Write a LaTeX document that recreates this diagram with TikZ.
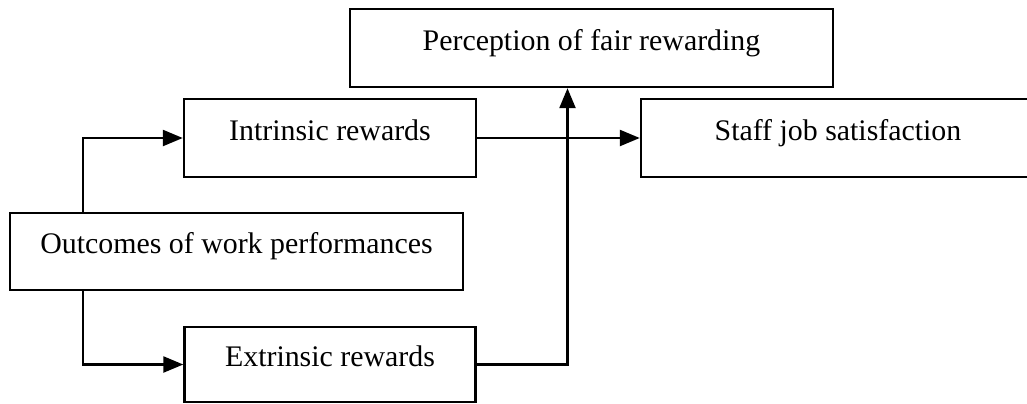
\documentclass[tikz,border=0pt]{standalone}
\usepackage{fontspec}
\setmainfont{Liberation Serif}
\usetikzlibrary{arrows.meta}

\begin{document}
\begin{tikzpicture}[node distance=45mm, >={Triangle[length=4mm,width=3.2mm]}, line width=1.4pt,
  block/.style={rectangle, draw, inner sep=0pt, text height=4.2mm, text depth=3.4mm, font=\fontsize{17}{20}\selectfont}]

    \useasboundingbox (0,0) rectangle (20.54,-8.08);

    \node[block, minimum width=58.4mm, minimum height=15.6mm] (intr) at (6.6,-2.76) {Intrinsic rewards};
    \node[block, minimum width=58.2mm, minimum height=15mm, below of=intr, node distance=45.3mm] (extr) {Extrinsic rewards};
    \node[block, minimum width=78.8mm, minimum height=15.6mm, right of=intr, node distance=101.6mm] (staff) {Staff job satisfaction};
    \node[block, minimum width=90.6mm, minimum height=15.4mm] (outc) at (4.73,-5.03) {Outcomes of work performances};
    \node[block, minimum width=96.6mm, minimum height=15.6mm] (perc) at (11.83,-0.96) {Perception of fair rewarding};
    \node[coordinate, left of=outc, node distance=30.7mm] (fork) {};
    \node[coordinate, right of=extr, node distance=47.5mm] (rise) {};

    \draw[->] (fork |- outc.north) |- (intr);
    \draw[->] (fork |- outc.south) |- (extr);
    \draw[->] (intr) -- (staff);
    \draw[->] (extr) -- (rise) -- (rise |- perc.south);

\end{tikzpicture}
\end{document}
